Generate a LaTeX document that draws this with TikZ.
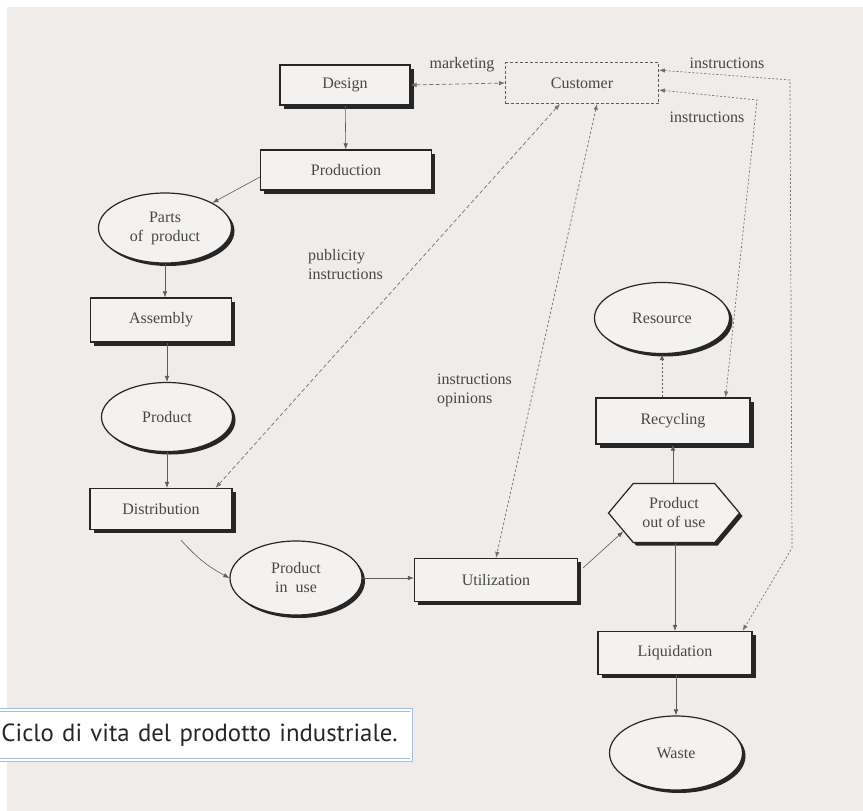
\documentclass[tikz,border=0pt]{standalone}
\usepackage{fontspec}
\setmainfont{Liberation Serif}
\newfontfamily\capfont{PT Sans}
\usetikzlibrary{arrows.meta,calc,positioning,shapes.geometric,shapes.symbols,shadows}
\definecolor{paper}{RGB}{239,236,233}
\definecolor{boxfill}{RGB}{244,242,240}
\definecolor{capblue}{RGB}{166,192,228}
\definecolor{ink}{RGB}{38,38,38}
\newcommand{\lab}{\fontsize{16}{19}\selectfont}
\tikzstyle{stage} = [rectangle, draw=ink, line width=1.2pt, fill=boxfill, inner sep=0pt, text=ink!85, font=\lab, general shadow={fill=ink, shadow xshift=3.5pt, shadow yshift=-3.5pt}]
\tikzstyle{state} = [ellipse, draw=ink, line width=1.2pt, fill=boxfill, inner sep=0pt, align=center, text=ink!85, font=\lab, general shadow={fill=ink, shadow xshift=3pt, shadow yshift=-3pt}]
\tikzstyle{party} = [rectangle, draw=ink!75, densely dashed, line width=0.8pt, inner sep=0pt, text=ink!85, font=\lab]
\tikzstyle{arrow} = [draw=ink!75, line width=0.6pt, -{Latex[length=6pt,width=4.5pt]}]
\tikzstyle{link} = [draw=ink!65, line width=0.7pt, dash pattern=on 4pt off 2.5pt, {Latex[length=6pt,width=4.5pt]}-{Latex[length=6pt,width=4.5pt]}]
\tikzstyle{hint} = [inner sep=0pt, align=left, text=ink!85, font=\lab]

\begin{document}
\begin{tikzpicture}[x=1pt,y=-1pt]
\useasboundingbox (0,0) rectangle (863,811);
\fill [white] (0,0) rectangle (863,811);
\fill [paper] (7,7) rectangle (863,811);
%
\node (design) [stage, minimum width=130pt, minimum height=40pt] at (345,85) {Design};
\node (customer) [party, minimum width=153pt, minimum height=41pt] at (582,83) {Customer};
\node (production) [stage, minimum width=171pt, minimum height=40pt] at (346,170) {Production};
\node (parts) [state, minimum width=133pt, minimum height=70pt] at (165,228) {Parts\\of\ \ product};
\node (assembly) [stage, minimum width=141pt, minimum height=44pt] at (161,320) {Assembly};
\node (product) [state, minimum width=131pt, minimum height=69pt] at (167,417) {Product};
\node (distrib) [stage, minimum width=142pt, minimum height=41pt] at (161,509) {Distribution};
\node (inuse) [state, minimum width=132pt, minimum height=74pt] at (296,578) {Product\\in\ \ use};
\node (util) [stage, minimum width=163pt, minimum height=43pt] at (496,580) {Utilization};
\node (outuse) [signal, signal to=west and east, signal pointer angle=100, draw=ink, line width=1.2pt, fill=boxfill, inner sep=0pt, text=ink!85, font=\lab, align=center, minimum width=131pt, minimum height=59pt, general shadow={fill=ink, shadow xshift=3pt, shadow yshift=-3pt}] at (674,513) {Product\\out of use};
\node (resource) [state, minimum width=135pt, minimum height=71pt] at (662,318) {Resource};
\node (recycl) [stage, minimum width=154pt, minimum height=46pt] at (673,421) {Recycling};
\node (liquid) [stage, minimum width=154pt, minimum height=43pt] at (675,653) {Liquidation};
\node (waste) [state, minimum width=133pt, minimum height=74pt] at (676,753) {Waste};
%
\draw [arrow] (design) -- (production);
\draw [arrow] ($(production.west)+(0,7)$) -- (parts.north east);
\draw [arrow] (parts.south) -- (parts.south |- assembly.north);
\draw [arrow] (product.north |- assembly.south) -- (product.north);
\draw [arrow] (product.south) -- (product.south |- distrib.north);
\draw [arrow] ($(distrib.south)+(20,10)$) to [bend right=10] (inuse.west);
\draw [arrow] (inuse.east) -- (util.west |- inuse.east);
\draw [arrow] ($(util.north east)+(5,10)$) -- (outuse.200);
\draw [arrow] (outuse.north -| recycl.south) -- (recycl.south);
\draw [arrow, dash pattern=on 2pt off 2pt] (recycl.north -| resource.south) -- (resource.south);
\draw [arrow] (outuse.south -| liquid.north) -- (liquid.north);
\draw [arrow] (liquid.south -| waste.north) -- (waste.north);
%
\draw [link] (design.east) -- (customer.west);
\draw [link] ($(customer.south)+(-22,0)$) -- ($(distrib.north east)+(-17,0)$);
\draw [link, dash pattern=on 2.5pt off 2pt] ($(customer.south)+(15,0)$) -- (util.north);
\coordinate (outer1) at (790,80);
\coordinate (outer2) at (792,548);
\draw [link, dash pattern=on 2pt off 2pt] ($(customer.north east)+(0,8)$) -- (outer1) -- (outer2) -- ($(liquid.north east)+(-10,0)$);
\coordinate (inner1) at (757,100);
\draw [link, dash pattern=on 2pt off 2pt] ($(customer.east)+(0,7)$) -- (inner1) -- ($(recycl.north east)+(-25,0)$);
%
\node (mark) [hint] at (462,65) {marketing};
\node (instr1) [hint] at (727,63) {instructions};
\node (instr2) [hint] at (707,117) {instructions};
\node (pub) [hint, anchor=west] at (308,265) {publicity\\instructions};
\node (opin) [hint, anchor=west] at (437,390) {instructions\\opinions};
%
\node (caption) [anchor=west, draw=capblue, double=white, double distance=2pt, line width=0.9pt, fill=white, inner xsep=6pt, inner ysep=0pt, minimum height=50pt, text width=404pt, align=left, text=ink, font=\capfont\fontsize{24.8}{28}\selectfont] at (-5,735) {Ciclo di vita del prodotto industriale.};
\end{tikzpicture}
\end{document}
